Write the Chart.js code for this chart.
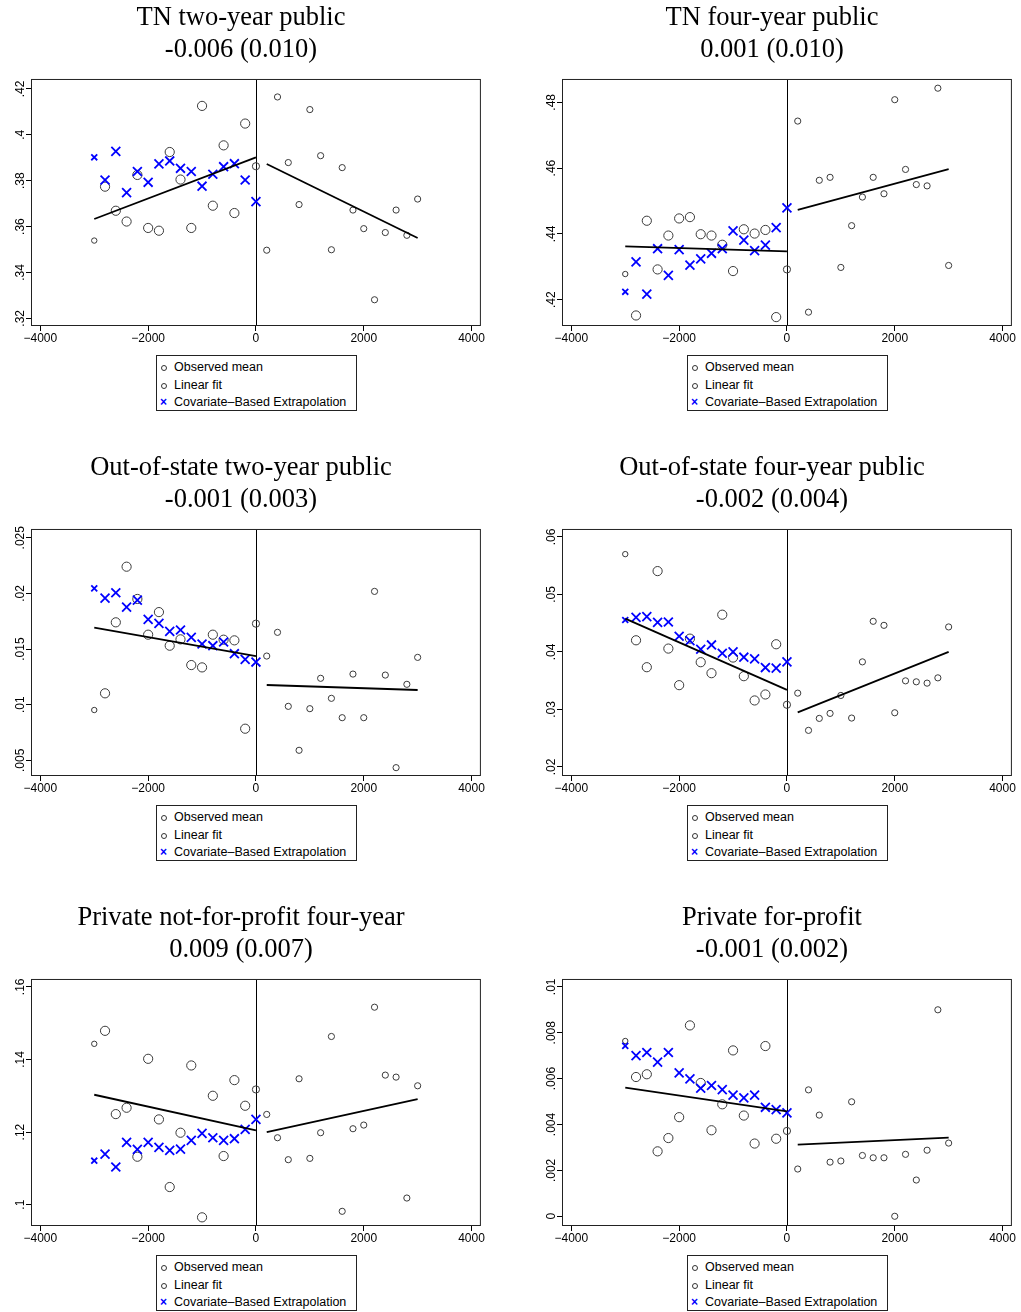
<!DOCTYPE html>
<html>
<head>
<meta charset="utf-8">
<script src="https://cdn.jsdelivr.net/npm/chart.js@4.4.0/dist/chart.umd.min.js"></script>
<style>
body { margin: 0; background: #fff; }
#page { position: relative; width: 1021px; height: 1312px; background: #fff; }
.panel { position: absolute; width: 488px; height: 350px; }
.legend {
    position: absolute; box-sizing: border-box; width: 201px; height: 56px;
    border: 1px solid #222; padding-top: 3px;
    font: 12.5px "Liberation Sans", Arial, sans-serif; color: #000;
}
.legend div { height: 17.5px; line-height: 17.5px; position: relative; padding-left: 17px; white-space: nowrap; }
.legend .ring {
    position: absolute; left: 4px; top: 6px; width: 4px; height: 4px;
    border: 1px solid #333; border-radius: 50%;
}
.legend .cross {
    position: absolute; left: 3px; top: 0; color: #0000ff; font-weight: bold; font-size: 12px;
}
</style>
</head>
<body>
<div id="page"></div>
<script>
// running variable bins
var binsLeft = [-3000, -2800, -2600, -2400, -2200, -2000, -1800, -1600, -1400, -1200, -1000, -800, -600, -400, -200, 0];
var binsRight = [200, 400, 600, 800, 1000, 1200, 1400, 1600, 1800, 2000, 2200, 2400, 2600, 2800, 3000];
var xTicks = [-4000, -2000, 0, 2000, 4000];

// TN two-year public
var obsTN2 = [.3539, .3774, .3669, .3622, .3825, .3594, .3582, .3925, .3805, .3594, .4126, .3691, .3954, .3659, .4049, .3863,
    .3497, .4165, .3879, .3696, .4110, .3909, .3499, .3857, .3672, .3591, .3281, .3574, .3672, .3562, .3720];
var extTN2 = [.3902, .3803, .3928, .3748, .3840, .3793, .3873, .3886, .3854, .3840, .3776, .3828, .3861, .3874, .3803, .3709];
var fitLeftTN2 = [.3633, .3902];
var fitRightTN2 = [.3873, .3550];
var ticksTN2 = [.32, .34, .36, .38, .40, .42];

// TN four-year public
var obsTN4 = [.4278, .4152, .4440, .4292, .4395, .4447, .4451, .4399, .4395, .4367, .4287, .4414, .4401, .4412, .4147, .4292,
    .4743, .4162, .4563, .4572, .4298, .4425, .4512, .4572, .4522, .4808, .4596, .4550, .4546, .4843, .4304];
var extTN4 = [.4224, .4315, .4217, .4355, .4274, .4352, .4305, .4324, .4341, .4355, .4409, .4381, .4349, .4366, .4419, .4479];
var fitLeftTN4 = [.4362, .4347];
var fitRightTN4 = [.4473, .4597];
var ticksTN4 = [.42, .44, .46, .48];

// Out-of-state two-year public
var obsOS2 = [.00952, .01102, .0174, .0224, .0195, .01629, .01832, .0153, .01587, .01356, .01335, .01629, .01584, .01578, .00784, .01728,
    .01437, .0165, .00985, .0059, .00964, .01237, .01057, .00883, .01275, .00883, .02018, .01266, .00434, .01183, .01425];
var extOS2 = [.02045, .01958, .02006, .01877, .0194, .01766, .0173, .01659, .01671, .01605, .01545, .0153, .01563, .01458, .01407, .01383];
var fitLeftOS2 = [.01692, .01437];
var fitRightOS2 = [.01177, .01132];
var ticksOS2 = [.005, .01, .015, .02, .025];

// Out-of-state four-year public
var obsOS4 = [.0570, .04202, .03734, .05405, .04058, .03422, .04231, .03821, .0363, .04647, .03902, .03578, .03156, .0326, .04133, .03081,
    .03283, .02636, .02844, .02931, .03243, .0285, .03827, .04532, .04462, .02942, .03497, .0348, .03457, .03549, .04434];
var extOS4 = [.04555, .04601, .04613, .04514, .0452, .04272, .04197, .04046, .04121, .03977, .0400, .03908, .03879, .03728, .03717, .03827];
var fitLeftOS4 = [.04578, .03341];
var fitRightOS4 = [.02948, .0400];
var ticksOS4 = [.02, .03, .04, .05, .06];

// Private not-for-profit four-year
var obsPNP = [.14431, .14789, .12495, .1267, .11321, .14018, .12349, .10486, .11982, .13835, .09651, .1300, .1134, .13431, .12725, .13174,
    .12486, .11844, .11239, .13468, .11275, .11982, .14633, .09817, .12092, .12193, .1544, .13569, .13514, .10183, .13275];
var extPNP = [.11211, .11394, .11037, .11716, .11523, .11716, .11578, .11495, .11532, .11771, .11963, .11844, .11771, .11817, .12073, .12349];
var fitLeftPNP = [.13028, .12046];
var fitRightPNP = [.1200, .12908];
var ticksPNP = [.1, .12, .14, .16];

// Private for-profit
var obsPFP = [.00764, .00607, .00619, .00283, .00341, .00432, .00832, .00581, .00375, .00488, .00723, .00439, .00317, .00742, .00338, .00372,
    .00206, .00551, .00441, .00236, .00241, .00499, .00265, .00255, .00255, 0, .0027, .00158, .00288, .0090, .00319];
var extPFP = [.00743, .0070, .00714, .00672, .00714, .00625, .00599, .00558, .0057, .00552, .00528, .00516, .00528, .00475, .00465, .00451];
var fitLeftPFP = [.00561, .00457];
var fitRightPFP = [.00312, .00343];
var ticksPFP = [0, .002, .004, .006, .008, .01];

var panels = [
    { title: "TN two-year public", est: "-0.006 (0.010)", obs: obsTN2, ext: extTN2, fitL: fitLeftTN2, fitR: fitRightTN2, ticks: ticksTN2, min: .3171, max: .4239 },
    { title: "TN four-year public", est: "0.001 (0.010)", obs: obsTN4, ext: extTN4, fitL: fitLeftTN4, fitR: fitRightTN4, ticks: ticksTN4, min: .4123, max: .4868 },
    { title: "Out-of-state two-year public", est: "-0.001 (0.003)", obs: obsOS2, ext: extOS2, fitL: fitLeftOS2, fitR: fitRightOS2, ticks: ticksOS2, min: .00368, max: .0257 },
    { title: "Out-of-state four-year public", est: "-0.002 (0.004)", obs: obsOS4, ext: extOS4, fitL: fitLeftOS4, fitR: fitRightOS4, ticks: ticksOS4, min: .0186, max: .0612 },
    { title: "Private not-for-profit four-year", est: "0.009 (0.007)", obs: obsPNP, ext: extPNP, fitL: fitLeftPNP, fitR: fitRightPNP, ticks: ticksPNP, min: .0944, max: .1619 },
    { title: "Private for-profit", est: "-0.001 (0.002)", obs: obsPFP, ext: extPFP, fitL: fitLeftPFP, fitR: fitRightPFP, ticks: ticksPFP, min: -.00038, max: .0103 }
];

var allBins = binsLeft.concat(binsRight);
var tickFont = { family: "'Liberation Sans', Arial, sans-serif", size: 12 };
var measure = document.createElement("canvas").getContext("2d");
measure.font = "12px 'Liberation Sans', Arial, sans-serif";

// Stata style labels: .42 instead of 0.42
function stataLabel(v) {
    var s = String(Number(v.toFixed(5)));
    return s.replace(/^0\./, ".").replace(/^-0\./, "-.");
}

function obsRadius(ctx) {
    var x = ctx.raw ? ctx.raw.x : 0;
    if (x === -3000) return 2.7;
    if (x === 0) return 3.6;
    if (x < 0) return 4.6;
    return 3.1;
}

function extRadius(ctx) {
    var x = ctx.raw ? ctx.raw.x : 0;
    return x === -3000 ? 4.2 : 6.3;
}

// frame around the plot region and the cutoff line at 0
var framePlugin = {
    id: "framePlugin",
    beforeDatasetsDraw: function (chart) {
        var a = chart.chartArea, ctx = chart.ctx;
        var x0 = Math.round(chart.scales.x.getPixelForValue(0)) + 0.5;
        ctx.save();
        ctx.strokeStyle = "#000";
        ctx.lineWidth = 1;
        ctx.beginPath();
        ctx.moveTo(x0, a.top);
        ctx.lineTo(x0, a.bottom);
        ctx.stroke();
        ctx.restore();
    },
    afterDatasetsDraw: function (chart) {
        var a = chart.chartArea, ctx = chart.ctx;
        ctx.save();
        ctx.strokeStyle = "#222";
        ctx.lineWidth = 1;
        ctx.strokeRect(a.left - 0.5, a.top - 0.5, a.right - a.left + 1, a.bottom - a.top + 1);
        ctx.restore();
    }
};

var page = document.getElementById("page");

panels.forEach(function (p, i) {
    var col = i % 2, row = Math.floor(i / 2);
    var left = col * 531, top = row * 450;

    var box = document.createElement("div");
    box.className = "panel";
    box.style.left = left + "px";
    box.style.top = top + "px";
    var canvas = document.createElement("canvas");
    canvas.width = 488;
    canvas.height = 350;
    box.appendChild(canvas);
    page.appendChild(box);

    var legend = document.createElement("div");
    legend.className = "legend";
    legend.style.left = (left + 156) + "px";
    legend.style.top = (top + 355) + "px";
    legend.innerHTML =
        '<div><span class="ring"></span>Observed mean</div>' +
        '<div><span class="ring"></span>Linear fit</div>' +
        '<div><span class="cross">×</span>Covariate–Based Extrapolation</div>';
    page.appendChild(legend);

    var widest = Math.max.apply(null, p.ticks.map(function (v) {
        return measure.measureText(stataLabel(v)).width;
    }));

    var obsPoints = p.obs.map(function (v, k) { return { x: allBins[k], y: v }; });
    var extPoints = p.ext.map(function (v, k) { return { x: binsLeft[k], y: v }; });
    var fitLeft = [{ x: binsLeft[0], y: p.fitL[0] }, { x: binsLeft[binsLeft.length - 1], y: p.fitL[1] }];
    var fitRight = [{ x: binsRight[0], y: p.fitR[0] }, { x: binsRight[binsRight.length - 1], y: p.fitR[1] }];

    new Chart(canvas, {
        type: "scatter",
        data: {
            datasets: [
                { type: "line", data: fitLeft, borderColor: "#000", borderWidth: 1.8, pointRadius: 0, fill: false, order: 0 },
                { type: "line", data: fitRight, borderColor: "#000", borderWidth: 1.8, pointRadius: 0, fill: false, order: 0 },
                {
                    label: "Covariate-Based Extrapolation", data: extPoints, pointStyle: "crossRot",
                    pointRadius: extRadius, borderColor: "#0000ff", pointBorderWidth: 1.8, order: 1
                },
                {
                    label: "Observed mean", data: obsPoints, pointStyle: "circle",
                    pointRadius: obsRadius, borderColor: "#3a3a3a", backgroundColor: "rgba(0,0,0,0)",
                    pointBorderWidth: 1, order: 2
                }
            ]
        },
        options: {
            responsive: false,
            animation: false,
            events: [],
            layout: { padding: { left: 0, right: 6, top: 0, bottom: 0 } },
            plugins: {
                legend: { display: false },
                tooltip: { enabled: false },
                title: {
                    display: true,
                    text: [p.title, p.est],
                    color: "#000",
                    font: { family: "'Liberation Serif', 'Times New Roman', serif", size: 26.5, weight: "normal", lineHeight: 1.19 },
                    padding: { top: 2.5, bottom: 14.4 }
                }
            },
            scales: {
                x: {
                    type: "linear",
                    min: -4155,
                    max: 4155,
                    afterBuildTicks: function (axis) {
                        axis.ticks = xTicks.map(function (v) { return { value: v }; });
                    },
                    afterFit: function (axis) { axis.height = 25; },
                    grid: { display: true, drawOnChartArea: false, drawTicks: true, tickLength: 6, color: "#000" },
                    border: { display: false },
                    ticks: {
                        font: tickFont, color: "#000", padding: 0.8, maxRotation: 0, autoSkip: false,
                        callback: function (v) { return String(v).replace("-", "\u2212"); }
                    }
                },
                y: {
                    type: "linear",
                    min: p.min,
                    max: p.max,
                    afterBuildTicks: function (axis) {
                        axis.ticks = p.ticks.map(function (v) { return { value: v }; });
                    },
                    afterFit: function (axis) { axis.width = 32; },
                    grid: { display: true, drawOnChartArea: false, drawTicks: true, tickLength: 6, color: "#000" },
                    border: { display: false },
                    ticks: {
                        font: tickFont, color: "#000", minRotation: 90, maxRotation: 90, crossAlign: "center",
                        padding: 5.7 - widest / 2, autoSkip: false,
                        callback: function (v) { return stataLabel(v); }
                    }
                }
            }
        },
        plugins: [framePlugin]
    });
});
</script>
</body>
</html>
